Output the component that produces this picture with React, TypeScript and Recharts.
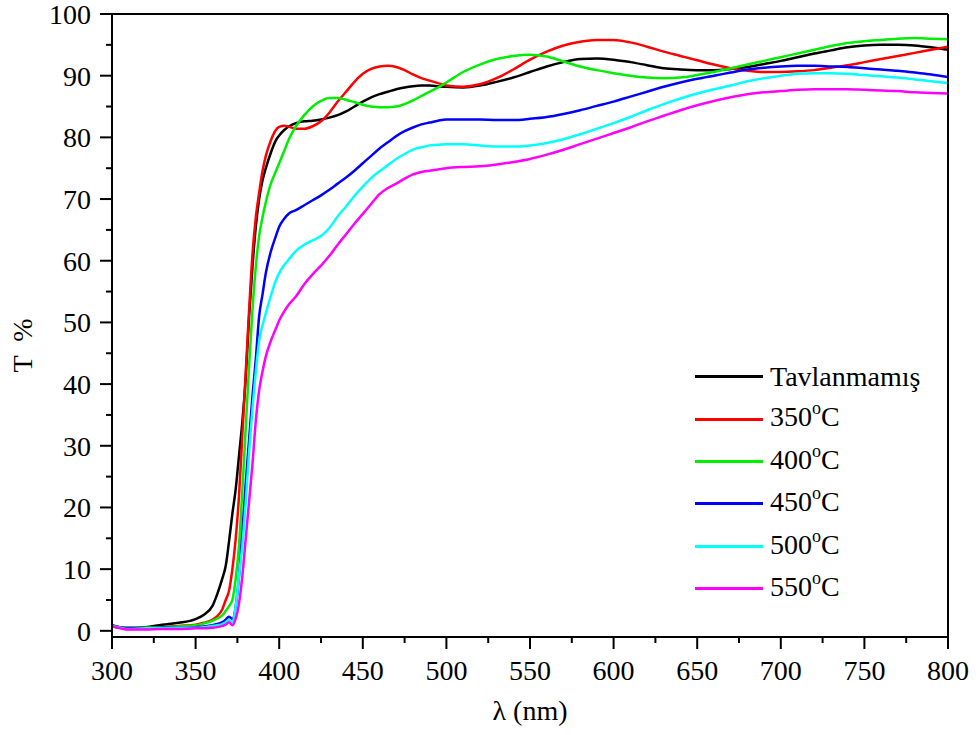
import React from 'react';
import { LineChart, Line, XAxis, YAxis, Legend } from 'recharts';

const FONT = "'Liberation Serif', 'Times New Roman', Times, serif";

// wavelength grid (nm), denser where the absorption edge is
const wavelengths = [
  300, 305, 310, 320, 330, 340, 350, 355, 360, 363, 366, 368, 370, 372, 374, 376, 378, 380,
  382, 384, 386, 388, 390, 392, 395, 398, 400, 403, 406, 410, 415, 420, 425, 430, 435, 440,
  445, 450, 455, 460, 465, 470, 475, 480, 485, 490, 495, 500, 510, 520, 530, 540, 550, 560,
  570, 580, 590, 600, 610, 620, 630, 640, 650, 660, 670, 680, 690, 700, 710, 720, 730, 740,
  750, 760, 770, 780, 790, 800,
];

const tavlanmamis = [
  0.9, 0.6, 0.5, 0.6, 1.0, 1.3, 1.9, 2.6, 4.0, 6.0, 8.5, 10.5, 14.5, 19, 23, 28.5, 34, 41,
  51, 59, 65.5, 70, 73, 75, 77.5, 79.5, 80.3, 81.2, 81.8, 82.3, 82.6, 82.7, 82.9, 83.2, 83.6, 84.2,
  85.0, 85.8, 86.5, 87.0, 87.4, 87.8, 88.1, 88.3, 88.4, 88.4, 88.3, 88.2, 88.1, 88.4, 89, 89.7, 90.6, 91.5,
  92.2, 92.7, 92.8, 92.6, 92.2, 91.7, 91.2, 91.0, 90.9, 90.9, 91.1, 91.4, 91.9, 92.4, 93, 93.6, 94.1, 94.6,
  94.9, 95.0, 95.0, 94.9, 94.6, 94.2,
];

const t350 = [
  0.8, 0.5, 0.4, 0.5, 0.6, 0.8, 1.0, 1.3, 1.8, 2.4, 3.5, 5, 6.5, 10, 15, 22, 32, 42,
  52, 61, 67, 71, 74.5, 77, 79.5, 81.2, 81.7, 81.9, 81.7, 81.4, 81.4, 81.8, 82.6, 84, 85.8, 87.4,
  89, 90.3, 91.1, 91.5, 91.6, 91.4, 90.9, 90.2, 89.6, 89.2, 88.8, 88.4, 88.2, 88.6, 89.6, 91, 92.6, 93.9,
  94.9, 95.5, 95.8, 95.8, 95.4, 94.7, 93.9, 93.2, 92.5, 91.8, 91.2, 90.8, 90.6, 90.6, 90.7, 90.9, 91.3, 91.7,
  92.2, 92.7, 93.2, 93.7, 94.2, 94.7,
];

const t400 = [
  0.8, 0.5, 0.4, 0.5, 0.6, 0.7, 0.9, 1.2, 1.6, 2.0, 2.5, 3.2, 4.0, 5.0, 8.5, 14, 23, 33,
  43, 52, 59, 64, 67, 69.5, 72.5, 74.5, 75.8, 77.8, 79.8, 81.8, 83.6, 85.0, 85.9, 86.4, 86.4, 86.1,
  85.7, 85.3, 85.0, 84.9, 84.9, 85.0, 85.4, 86.0, 86.7, 87.4, 88.1, 88.9, 90.6, 91.8, 92.7, 93.2, 93.4, 93.1,
  92.3, 91.5, 90.9, 90.4, 90.0, 89.7, 89.6, 89.7, 90.1, 90.6, 91.2, 91.8, 92.4, 93.0, 93.6, 94.2, 94.8, 95.3,
  95.6, 95.8, 96.0, 96.1, 96.0, 95.9,
];

const t450 = [
  0.8, 0.5, 0.4, 0.4, 0.5, 0.5, 0.6, 0.7, 0.9, 1.1, 1.4, 1.8, 2.3, 1.9, 4, 9, 16, 24,
  31, 38, 44, 51, 54.5, 58, 61.5, 64, 65.5, 66.8, 67.7, 68.2, 69, 69.8, 70.6, 71.5, 72.5, 73.5,
  74.6, 75.8, 77, 78.2, 79.2, 80.2, 81, 81.6, 82.1, 82.4, 82.7, 82.9, 82.9, 82.9, 82.8, 82.8, 83.0, 83.3,
  83.8, 84.4, 85.1, 85.8, 86.6, 87.4, 88.2, 88.9, 89.5, 90.0, 90.5, 91.0, 91.3, 91.5, 91.6, 91.6, 91.5, 91.4,
  91.2, 91.0, 90.8, 90.5, 90.2, 89.8,
];

const t500 = [
  0.8, 0.5, 0.3, 0.4, 0.4, 0.5, 0.5, 0.6, 0.8, 0.9, 1.1, 1.4, 1.8, 1.3, 4, 9, 14, 21,
  29, 36, 42, 47, 49.5, 51.5, 54.3, 56.8, 58, 59.3, 60.3, 61.6, 62.6, 63.3, 64.0, 65.3, 67.2, 68.8,
  70.5, 72.0, 73.4, 74.5, 75.5, 76.5, 77.3, 78.0, 78.4, 78.7, 78.8, 78.9, 78.9, 78.7, 78.5, 78.5, 78.7, 79.1,
  79.7, 80.5, 81.4, 82.3, 83.3, 84.4, 85.4, 86.3, 87.1, 87.8, 88.4, 89.1, 89.6, 90.0, 90.3, 90.4, 90.4, 90.3,
  90.1, 89.9, 89.7, 89.4, 89.1, 88.8,
];

const t550 = [
  0.7, 0.4, 0.2, 0.2, 0.3, 0.3, 0.4, 0.4, 0.5, 0.6, 0.8, 1.0, 1.4, 0.9, 2, 4.5, 9, 15,
  21, 27, 34, 39, 42, 44.5, 47, 49, 50.3, 51.8, 53, 54.2, 56.2, 57.8, 59.2, 60.8, 62.6, 64.3,
  66, 67.6, 69.2, 70.8, 71.8, 72.5, 73.3, 74, 74.4, 74.6, 74.8, 75.0, 75.2, 75.3, 75.6, 76.0, 76.5, 77.2,
  78, 78.9, 79.8, 80.7, 81.6, 82.6, 83.5, 84.4, 85.2, 85.9, 86.5, 87.0, 87.3, 87.5, 87.7, 87.8, 87.8, 87.8,
  87.7, 87.6, 87.5, 87.3, 87.2, 87.1,
];

const seriesNames = ['Tavlanmamış', '350°C', '400°C', '450°C', '500°C', '550°C'];
const seriesKeys = ['t0', 't350', 't400', 't450', 't500', 't550'];
const seriesColors = ['#000000', '#ff0000', '#00ee00', '#0000ff', '#00ffff', '#ff00ff'];
const seriesValues = [tavlanmamis, t350, t400, t450, t500, t550];

const xTicks = [
  300, 325, 350, 375, 400, 425, 450, 475, 500, 525, 550, 575, 600, 625, 650, 675, 700, 725, 750,
  775, 800,
];
const yTicks = [0, 5, 10, 15, 20, 25, 30, 35, 40, 45, 50, 55, 60, 65, 70, 75, 80, 85, 90, 95, 100];

const data = wavelengths.map((w, i) => {
  const row: Record<string, number> = { w };
  seriesKeys.forEach((k, j) => {
    row[k] = seriesValues[j][i];
  });
  return row;
});

const BottomTick = (props: any) => {
  const { x, y, payload } = props;
  const major = payload.value % 50 === 0;
  return (
    <g>
      <line x1={x} x2={x} y1={y} y2={y + (major ? 12 : 6)} stroke="#000" strokeWidth={2} />
      {major && (
        <text x={x} y={y + 43} textAnchor="middle" fontSize={28} style={{ fontFamily: FONT }} fill="#000">
          {payload.value}
        </text>
      )}
    </g>
  );
};

const LeftTick = (props: any) => {
  const { x, y, payload } = props;
  const major = payload.value % 10 === 0;
  return (
    <g>
      <line x1={x - (major ? 12 : 6)} x2={x} y1={y} y2={y} stroke="#000" strokeWidth={2} />
      {major && (
        <text x={x - 21} y={y + 10} textAnchor="end" fontSize={28} style={{ fontFamily: FONT }} fill="#000">
          {payload.value}
        </text>
      )}
    </g>
  );
};

const YTitle = (props: any) => {
  const vb = props.viewBox;
  const cx = vb.x + 20;
  const cy = vb.y + vb.height / 2 + 20;
  return (
    <text
      x={cx}
      y={cy}
      transform={`rotate(-90, ${cx}, ${cy})`}
      textAnchor="middle"
      fontSize={28}
      fill="#000"
      style={{ fontFamily: FONT, whiteSpace: 'pre' }}
    >
      T  %
    </text>
  );
};

const XTitle = (props: any) => {
  const vb = props.viewBox;
  return (
    <text
      x={vb.x + vb.width / 2}
      y={vb.y + 83}
      textAnchor="middle"
      fontSize={28}
      fill="#000"
      style={{ fontFamily: FONT }}
    >
      λ (nm)
    </text>
  );
};

// "350°C" -> 350 + raised small o + C, like the original figure
const renderName = (name: string) => {
  const parts = name.split('°');
  if (parts.length < 2) return name;
  return (
    <>
      {parts[0]}
      <span style={{ fontSize: 18, position: 'relative', top: -12 }}>o</span>
      {parts[1]}
    </>
  );
};

const renderLegend = (props: any) => {
  const items = [...(props.payload || [])].sort(
    (a: any, b: any) => seriesNames.indexOf(a.value) - seriesNames.indexOf(b.value),
  );
  return (
    <div style={{ fontFamily: FONT, fontSize: 28, color: '#000' }}>
      {items.map((e: any) => (
        <div key={e.value} style={{ display: 'flex', alignItems: 'center', height: 42.4 }}>
          <div style={{ width: 68, height: 3, background: e.color }} />
          <span style={{ marginLeft: 7, whiteSpace: 'nowrap', lineHeight: '42.4px' }}>
            {renderName(e.value)}
          </span>
        </div>
      ))}
    </div>
  );
};

export default function App() {
  const axisStroke = { stroke: '#000', strokeWidth: 2 };
  return (
    <div style={{ position: 'absolute', left: 0, top: 0, width: 980, height: 735, background: '#fff' }}>
      <LineChart width={980} height={735} data={data} margin={{ top: 14, right: 32, bottom: 0, left: 12 }}>
        <XAxis
          dataKey="w"
          type="number"
          domain={[300, 800]}
          ticks={xTicks}
          interval={0}
          allowDataOverflow
          height={98}
          axisLine={axisStroke}
          tickLine={false}
          tickSize={0}
          tickMargin={0}
          tick={<BottomTick />}
          label={<XTitle />}
        />
        <XAxis
          xAxisId="top"
          dataKey="w"
          orientation="top"
          mirror
          type="number"
          domain={[300, 800]}
          ticks={xTicks}
          interval={0}
          allowDataOverflow
          axisLine={axisStroke}
          tickLine={axisStroke}
          tickSize={5}
          tick={false}
        />
        <YAxis
          type="number"
          domain={[-1, 100]}
          ticks={yTicks}
          interval={0}
          allowDataOverflow
          width={100}
          axisLine={axisStroke}
          tickLine={false}
          tickSize={0}
          tickMargin={0}
          tick={<LeftTick />}
          label={<YTitle />}
        />
        <YAxis
          yAxisId="right"
          orientation="right"
          mirror
          type="number"
          domain={[-1, 100]}
          ticks={yTicks}
          interval={0}
          allowDataOverflow
          axisLine={axisStroke}
          tickLine={axisStroke}
          tickSize={5}
          tick={false}
        />
        <Legend
          layout="vertical"
          align="center"
          verticalAlign="middle"
          itemSorter={null as any}
          content={renderLegend}
          wrapperStyle={{ left: 695, top: 355.5, width: 250 }}
        />
        {seriesKeys.map((k, j) => (
          <Line
            key={k}
            dataKey={k}
            name={seriesNames[j]}
            type="monotone"
            stroke={seriesColors[j]}
            strokeWidth={2.5}
            dot={false}
            activeDot={false}
            isAnimationActive={false}
          />
        ))}
      </LineChart>
    </div>
  );
}
